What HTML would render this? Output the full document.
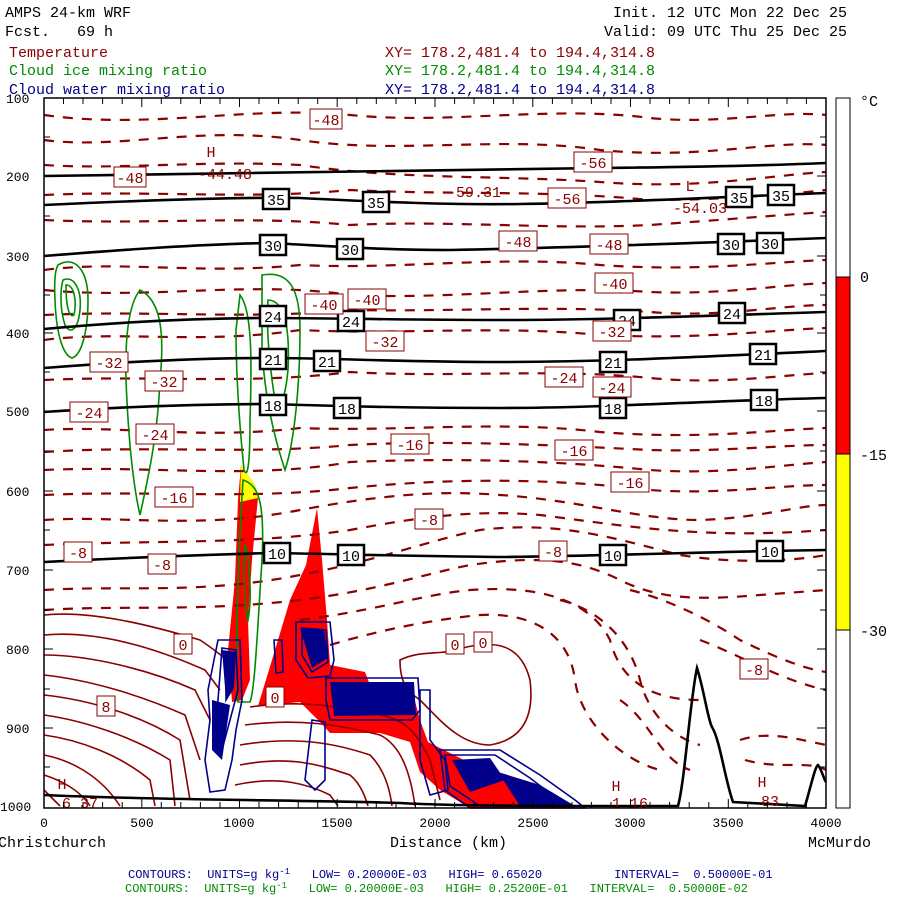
<!DOCTYPE html>
<html><head><meta charset="utf-8"><style>
body{margin:0;background:#fff;width:900px;height:900px;overflow:hidden}
svg{display:block}
text{font-family:"Liberation Mono","DejaVu Sans Mono",monospace;white-space:pre}
</style></head><body>
<svg width="900" height="900" viewBox="0 0 900 900" xmlns="http://www.w3.org/2000/svg">
<rect width="900" height="900" fill="#fff"/>
<g font-size="15" fill="#000">
<text x="5" y="17">AMPS 24-km WRF</text>
<text x="5" y="36">Fcst.   69 h</text>
<text x="613" y="17">Init. 12 UTC Mon 22 Dec 25</text>
<text x="604" y="36">Valid: 09 UTC Thu 25 Dec 25</text>
</g>
<g font-size="15">
<text x="9" y="57" fill="#8b0000">Temperature</text>
<text x="9" y="75" fill="#008b00">Cloud ice mixing ratio</text>
<text x="9" y="94" fill="#00008b">Cloud water mixing ratio</text>
<text x="385" y="57" fill="#8b0000">XY= 178.2,481.4 to 194.4,314.8</text>
<text x="385" y="75" fill="#008b00">XY= 178.2,481.4 to 194.4,314.8</text>
<text x="385" y="94" fill="#00008b">XY= 178.2,481.4 to 194.4,314.8</text>
</g>

<g>
<path d="M317,508 L322,560 L327,620 L330,665 L365,672 L370,685 L412,690 L420,720 L428,742 L460,758 L500,778 L540,795 L575,808 L470,808 L440,790 L420,772 L410,742 L380,733 L330,733 L318,720 L300,702 L258,706 L272,660 L290,600 L306,565 Z" fill="#ff0000"/>
<path d="M241,465 L255,485 L258,498 L252,560 L248,620 L250,680 L242,700 L232,702 L228,650 L235,580 L238,500 Z" fill="#ff0000"/>
<path d="M241,465 L255,485 L258,498 L240,502 Z" fill="#ffff00"/>
</g>

<g fill="none" stroke="#8b0000" stroke-width="1.6">
<path d="M44,615 C90,610 150,625 200,640 C215,650 220,655 228,660"/>
<path d="M44,635 C100,630 160,650 205,670 L220,690"/>
<path d="M44,655 C90,655 150,670 195,690 L210,720"/>
<path d="M44,675 C90,680 140,695 185,715 L200,760"/>
<path d="M44,695 C90,700 140,715 180,740 L190,800"/>
<path d="M44,715 C80,720 130,735 170,760 L175,806"/>
<path d="M44,735 C80,740 120,755 150,780 L155,806"/>
<path d="M44,755 C70,760 100,775 120,806"/>
<path d="M44,775 C60,780 80,790 90,806"/>
<path d="M44,790 L60,806"/>
<path d="M250,707 C300,700 330,705 380,715 C410,720 420,740 430,760 L440,800"/>
<path d="M245,725 C300,718 340,725 380,735 C400,745 410,770 415,806"/>
<path d="M240,745 C300,735 340,745 370,755 C385,770 390,790 392,806"/>
<path d="M240,765 C290,755 320,765 350,775 C362,785 366,800 368,806"/>
<path d="M235,785 C280,775 310,785 330,795 L338,806"/>
<path d="M400,660 C420,650 440,655 455,650 C490,640 520,640 530,680 C535,720 520,740 490,745 C460,745 440,720 420,700 C405,690 400,680 400,660 Z"/>
</g>

<g fill="none" stroke="#8b0000" stroke-width="2.2" stroke-dasharray="10,9">
<path d="M44,115 C150,130 250,105 350,115 C450,125 550,105 650,118 C720,125 780,110 826,115"/>
<path d="M44,140 C120,150 200,125 300,140 C400,155 500,135 600,150 C700,160 770,140 826,145"/>
<path d="M44,165 C120,170 200,160 300,165 C400,180 500,175 600,182 C700,190 770,175 826,172"/>
<path d="M44,220 C150,225 250,215 350,225 C450,220 550,230 650,225 C720,220 780,215 826,212"/>
<path d="M44,270 C120,260 200,275 300,265 C400,270 500,255 600,265 C700,272 770,262 826,260"/>
<path d="M44,290 C150,300 250,280 350,295 C450,300 550,285 650,292 C720,295 780,285 826,283"/>
<path d="M44,340 C120,330 200,345 300,330 C400,335 500,325 600,335 C700,340 770,330 826,328"/>
<path d="M44,380 C150,375 250,385 350,372 C450,378 550,368 650,378 C720,385 780,375 826,373"/>
<path d="M44,430 C120,425 200,440 300,428 C400,432 500,420 600,432 C700,440 770,430 826,428"/>
<path d="M44,470 C150,465 250,480 350,462 C450,458 550,460 650,470 C720,475 780,465 826,462"/>
<path d="M44,520 C120,515 200,530 300,510 C380,495 440,490 500,495 C580,500 640,520 700,520 C760,518 800,505 826,505"/>
<path d="M44,590 C120,585 200,595 300,575 C380,560 430,540 480,530 C560,520 620,540 680,555 C740,565 800,560 826,555"/>
<path d="M44,610 C120,605 200,612 300,600 C380,590 420,575 470,565 C540,555 580,560 620,580 C660,600 700,600 760,595 C800,592 826,590 826,590"/>
<path d="M300,620 C380,610 420,595 470,590 C540,585 590,600 610,640 C620,680 650,700 700,700"/>
<path d="M330,645 C380,630 430,620 480,615 C540,612 570,640 575,680 C580,720 620,760 660,770"/>
<path d="M560,600 C600,610 630,640 640,680 C650,720 680,740 700,745"/>
<path d="M630,590 C670,600 710,620 740,640 C780,660 810,670 826,672"/>
<path d="M700,640 C740,655 780,680 826,690"/>
<path d="M620,700 C650,720 660,760 690,770"/>
<path d="M740,740 C770,730 800,740 826,745"/>
<path d="M745,760 C780,770 810,760 826,770"/>
<path d="M44,195 C150,190 250,200 350,190 C450,195 550,190 650,200 C720,200 780,195 826,190"/>
<path d="M44,315 C150,310 250,320 350,310 C450,312 550,305 650,312 C720,318 780,305 826,305"/>
<path d="M44,452 C150,445 250,455 350,445 C450,440 550,445 650,450 C720,452 780,445 826,445"/>
<path d="M44,495 C150,490 250,500 350,488 C450,478 550,478 650,490 C720,495 780,485 826,485"/>
<path d="M44,545 C150,540 250,545 350,530 C430,515 480,510 540,515 C620,525 700,540 826,530"/>
</g>

<g fill="none" stroke="#008b00" stroke-width="1.6">
<path d="M58,265 C75,255 88,270 88,300 C88,330 82,355 72,358 C62,355 56,330 55,300 C54,280 55,270 58,265 Z"/>
<path d="M63,280 C74,275 82,290 80,310 C78,330 70,335 65,325 C60,310 60,290 63,280 Z"/>
<path d="M66,285 C74,285 77,300 74,315 C70,318 66,310 66,285 Z"/>
<path d="M140,290 C160,300 165,330 160,380 C158,430 150,470 140,515 C132,480 128,430 126,380 C125,340 128,305 140,290 Z"/>
<path d="M240,295 C252,310 252,360 250,420 C250,460 248,480 244,470 C240,430 236,380 236,330 Z"/>
<path d="M262,275 C290,270 300,290 300,330 C300,380 295,440 285,470 C275,440 265,400 262,350 Z"/>
<path d="M268,300 C285,300 290,330 288,370 C285,400 280,410 275,400 C270,370 266,330 268,300 Z"/>
<path d="M243,480 C258,485 265,500 262,560 C258,620 255,690 250,702 L238,702 C235,650 238,560 243,480 Z"/>
<path d="M245,545 C250,560 252,600 248,620 C244,610 243,570 245,545 Z"/>
</g>

<g fill="none" stroke="#00008b" stroke-width="1.6">
<path d="M218,640 L240,640 L242,700 L236,730 L232,760 L225,790 L210,792 L205,760 L210,720 L208,690 Z"/>
<path d="M222,648 L236,650 L238,690 L230,720 L222,750 L214,740 L218,700 Z"/>
<path d="M226,655 L234,660 L232,690 L226,700 Z"/>
<path d="M296,622 L330,622 L334,660 L330,676 L308,678 L296,660 Z"/>
<path d="M302,628 L326,630 L328,662 L312,672 L302,655 Z"/>
<path d="M274,640 L282,640 L283,672 L276,673 Z"/>
<path d="M326,678 L418,678 L420,710 L412,720 L330,720 L326,700 Z"/>
<path d="M312,720 L325,722 L325,780 L315,790 L305,780 Z"/>
<path d="M420,690 L430,690 L430,740 L445,760 L448,790 L430,795 L420,760 Z"/>
<path d="M440,750 L500,750 L540,775 L575,800 L585,808 L470,808 L445,790 Z"/>
<path d="M445,755 L495,755 L530,778 L565,805 L480,806 L450,786 Z"/>
</g>
<g fill="#00008b">
<path d="M330,682 L414,682 L416,715 L334,716 Z"/>
<path d="M452,760 L490,758 L505,780 L470,792 Z"/>
<path d="M498,772 L540,785 L575,806 L520,806 Z"/>
<path d="M222,650 L236,652 L234,688 L226,700 Z"/>
<path d="M300,628 L324,630 L328,658 L312,668 Z"/>
<path d="M212,700 L230,705 L222,760 L212,750 Z"/>
</g>

<g fill="none" stroke="#000" stroke-width="2.6">
<path d="M44,176 C200,172 400,170 600,168 C700,167 780,165 826,163"/>
<path d="M44,205 C150,200 240,197 300,198 C380,202 450,205 520,204 C600,203 700,198 826,193"/>
<path d="M44,256 C120,250 200,244 270,243 C330,246 380,250 450,250 C550,248 650,245 826,238"/>
<path d="M44,329 C120,322 200,318 270,318 C330,318 400,320 500,320 C600,320 700,316 826,312"/>
<path d="M44,368 C120,362 200,358 270,358 C330,358 400,362 500,362 C600,362 700,357 826,351"/>
<path d="M44,412 C120,407 200,404 270,404 C330,406 400,408 500,408 C600,408 700,401 826,398"/>
<path d="M44,562 C120,558 200,555 270,553 C340,554 400,556 500,557 C600,556 700,552 826,550"/>
<path d="M44,795 C150,800 300,800 400,803 C450,806 550,806 660,806 L678,806 C685,780 690,700 697,668 C704,690 708,720 712,727 C720,740 725,780 733,802 L805,806 C810,790 815,766 818,765 C822,770 824,780 826,782"/>
</g>

<g font-size="15" text-anchor="middle">
<g fill="#fff" stroke="#000" stroke-width="2.5">
<rect x="263" y="189" width="26" height="20"/><rect x="363" y="192" width="26" height="20"/>
<rect x="726" y="187" width="26" height="20"/><rect x="768" y="185" width="26" height="20"/>
<rect x="260" y="235" width="26" height="20"/><rect x="337" y="239" width="26" height="20"/>
<rect x="718" y="234" width="26" height="20"/><rect x="757" y="233" width="26" height="20"/>
<rect x="260" y="306" width="26" height="20"/><rect x="338" y="311" width="26" height="20"/>
<rect x="614" y="310" width="26" height="20"/><rect x="719" y="303" width="26" height="20"/>
<rect x="260" y="349" width="26" height="20"/><rect x="314" y="351" width="26" height="20"/>
<rect x="600" y="352" width="26" height="20"/><rect x="750" y="344" width="26" height="20"/>
<rect x="260" y="395" width="26" height="20"/><rect x="334" y="398" width="26" height="20"/>
<rect x="600" y="398" width="26" height="20"/><rect x="751" y="390" width="26" height="20"/>
<rect x="264" y="543" width="26" height="20"/><rect x="338" y="545" width="26" height="20"/>
<rect x="600" y="545" width="26" height="20"/><rect x="757" y="541" width="26" height="20"/>
</g>
<g fill="#000">
<text x="276" y="205">35</text><text x="376" y="208">35</text><text x="739" y="203">35</text><text x="781" y="201">35</text>
<text x="273" y="251">30</text><text x="350" y="255">30</text><text x="731" y="250">30</text><text x="770" y="249">30</text>
<text x="273" y="322">24</text><text x="351" y="327">24</text><text x="627" y="326">24</text><text x="732" y="319">24</text>
<text x="273" y="365">21</text><text x="327" y="367">21</text><text x="613" y="368">21</text><text x="763" y="360">21</text>
<text x="273" y="411">18</text><text x="347" y="414">18</text><text x="613" y="414">18</text><text x="764" y="406">18</text>
<text x="277" y="559">10</text><text x="351" y="561">10</text><text x="613" y="561">10</text><text x="770" y="557">10</text>
</g>
</g>

<g font-size="15" text-anchor="middle" fill="#8b0000">
<g fill="#fff" stroke="#8b0000" stroke-width="1">
<rect x="310" y="109" width="32" height="20"/><rect x="114" y="167" width="32" height="20"/>
<rect x="574" y="152" width="38" height="20"/><rect x="548" y="188" width="38" height="20"/>
<rect x="499" y="231" width="38" height="20"/><rect x="590" y="234" width="38" height="20"/>
<rect x="348" y="289" width="38" height="20"/><rect x="305" y="294" width="38" height="20"/>
<rect x="595" y="273" width="38" height="20"/><rect x="366" y="331" width="38" height="20"/>
<rect x="593" y="321" width="38" height="20"/><rect x="90" y="352" width="38" height="20"/>
<rect x="145" y="371" width="38" height="20"/><rect x="545" y="367" width="38" height="20"/>
<rect x="593" y="377" width="38" height="20"/><rect x="70" y="402" width="38" height="20"/>
<rect x="136" y="424" width="38" height="20"/><rect x="391" y="434" width="38" height="20"/>
<rect x="555" y="440" width="38" height="20"/><rect x="611" y="472" width="38" height="20"/>
<rect x="155" y="487" width="38" height="20"/><rect x="415" y="509" width="28" height="20"/>
<rect x="64" y="542" width="28" height="20"/><rect x="148" y="554" width="28" height="20"/>
<rect x="539" y="541" width="28" height="20"/><rect x="740" y="659" width="28" height="20"/>
<rect x="174" y="634" width="18" height="20"/><rect x="446" y="634" width="18" height="20"/>
<rect x="474" y="632" width="18" height="20"/><rect x="266" y="687" width="18" height="20"/>
<rect x="97" y="696" width="18" height="20"/>
</g>
<text x="326" y="125">-48</text><text x="130" y="183">-48</text>
<text x="593" y="168">-56</text><text x="567" y="204">-56</text>
<text x="518" y="247">-48</text><text x="609" y="250">-48</text>
<text x="367" y="305">-40</text><text x="324" y="310">-40</text>
<text x="614" y="289">-40</text><text x="385" y="347">-32</text>
<text x="612" y="337">-32</text><text x="109" y="368">-32</text>
<text x="164" y="387">-32</text><text x="564" y="383">-24</text>
<text x="612" y="393">-24</text><text x="89" y="418">-24</text>
<text x="155" y="440">-24</text><text x="410" y="450">-16</text>
<text x="574" y="456">-16</text><text x="630" y="488">-16</text>
<text x="174" y="503">-16</text><text x="429" y="525">-8</text>
<text x="78" y="558">-8</text><text x="162" y="570">-8</text>
<text x="553" y="557">-8</text><text x="754" y="675">-8</text>
<text x="183" y="650">0</text><text x="455" y="650">0</text>
<text x="483" y="648">0</text><text x="275" y="703">0</text>
<text x="106" y="712">8</text>
<text x="211" y="157">H</text><text x="225" y="179">-44.48</text>
<text x="474" y="197">-59.31</text>
<text x="690" y="191">L</text><text x="700" y="213">-54.03</text>
<text x="62" y="789">H</text><text x="616" y="791">H</text><text x="762" y="787">H</text>
<text x="80" y="808">6 37</text><text x="630" y="808">1 16</text><text x="770" y="806">83</text>
</g>

<rect x="44" y="98" width="782" height="710" fill="none" stroke="#000" stroke-width="1.5"/>
<g stroke="#000" stroke-width="1">
<path d="M63.5,98v6M83,98v6M102.6,98v6M122.2,98v6M141.8,98v9M161.3,98v6M180.8,98v6M200.4,98v6M220,98v6M239.5,98v9M259,98v6M278.6,98v6M298.2,98v6M317.7,98v6M337.2,98v9M356.8,98v6M376.3,98v6M396,98v6M415.4,98v6M435,98v9M454.6,98v6M474,98v6M493.6,98v6M513.2,98v6M532.8,98v9M552.4,98v6M572,98v6M591.4,98v6M611,98v6M630.5,98v9M650,98v6M669.6,98v6M689.2,98v6M708.8,98v6M728.3,98v9M747.8,98v6M767.4,98v6M787,98v6M806.4,98v6"/>
<path d="M63.5,808v-6M83,808v-6M102.6,808v-6M122.2,808v-6M141.8,808v-9M161.3,808v-6M180.8,808v-6M200.4,808v-6M220,808v-6M239.5,808v-9M259,808v-6M278.6,808v-6M298.2,808v-6M317.7,808v-6M337.2,808v-9M356.8,808v-6M376.3,808v-6M396,808v-6M415.4,808v-6M435,808v-9M454.6,808v-6M474,808v-6M493.6,808v-6M513.2,808v-6M532.8,808v-9M552.4,808v-6M572,808v-6M591.4,808v-6M611,808v-6M630.5,808v-9M650,808v-6M669.6,808v-6M689.2,808v-6M708.8,808v-6M728.3,808v-9M747.8,808v-6M767.4,808v-6M787,808v-6M806.4,808v-6"/>
<path d="M44,137h6M44,176h9M44,216h6M44,256h9M44,295h6M44,333h9M44,372h6M44,411h9M44,451h6M44,491h9M44,530h6M44,570h9M44,610h6M44,649h9M44,689h6M44,728h9M44,767h6"/>
<path d="M826,137h-6M826,176h-9M826,216h-6M826,256h-9M826,295h-6M826,333h-9M826,372h-6M826,411h-9M826,451h-6M826,491h-9M826,530h-6M826,570h-9M826,610h-6M826,649h-9M826,689h-6M826,728h-9M826,767h-6"/>
</g>
<g font-size="13" fill="#000">
<text x="6" y="103">100</text><text x="6" y="181">200</text><text x="6" y="261">300</text><text x="6" y="338">400</text><text x="6" y="416">500</text><text x="6" y="496">600</text><text x="6" y="575">700</text><text x="6" y="654">800</text><text x="6" y="733">900</text><text x="0" y="811">1000</text>
<text x="44" y="827" text-anchor="middle">0</text><text x="142" y="827" text-anchor="middle">500</text><text x="239" y="827" text-anchor="middle">1000</text><text x="337" y="827" text-anchor="middle">1500</text><text x="435" y="827" text-anchor="middle">2000</text><text x="533" y="827" text-anchor="middle">2500</text><text x="630" y="827" text-anchor="middle">3000</text><text x="728" y="827" text-anchor="middle">3500</text><text x="826" y="827" text-anchor="middle">4000</text>
</g>
<g font-size="15" fill="#000">
<text x="-2" y="847">Christchurch</text>
<text x="390" y="847">Distance (km)</text>
<text x="808" y="847">McMurdo</text>
</g>

<rect x="836" y="98" width="14" height="179" fill="#fff" stroke="#000"/>
<rect x="836" y="277" width="14" height="177" fill="#ff0000" stroke="#000"/>
<rect x="836" y="454" width="14" height="176" fill="#ffff00" stroke="#000"/>
<rect x="836" y="630" width="14" height="178" fill="#fff" stroke="#000"/>
<g font-size="15" fill="#000">
<text x="860" y="106">°C</text>
<text x="860" y="282">0</text>
<text x="860" y="460">-15</text>
<text x="860" y="636">-30</text>
</g>

<g font-size="12" font-family="Liberation Serif, serif">
<text x="128" y="878" fill="#00008b">CONTOURS:  UNITS=g kg<tspan dy="-4" font-size="9">-1</tspan><tspan dy="4">   LOW= 0.20000E-03   HIGH= 0.65020          INTERVAL=  0.50000E-01</tspan></text>
<text x="125" y="892" fill="#008b00">CONTOURS:  UNITS=g kg<tspan dy="-4" font-size="9">-1</tspan><tspan dy="4">   LOW= 0.20000E-03   HIGH= 0.25200E-01   INTERVAL=  0.50000E-02</tspan></text>
</g>
</svg>
</body></html>
